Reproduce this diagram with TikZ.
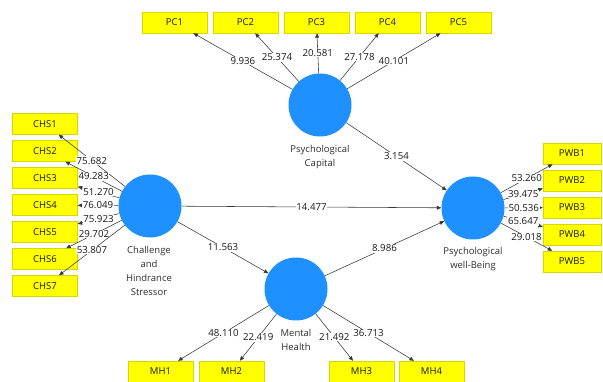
\documentclass[tikz,border=0pt]{standalone}
\usepackage{fontspec}
\setmainfont{Open Sans}
\usetikzlibrary{arrows.meta}
\definecolor{lvc}{RGB}{30,144,255}
\definecolor{indc}{RGB}{255,255,0}
\definecolor{indb}{RGB}{215,215,0}
\definecolor{lnc}{RGB}{55,55,55}
\definecolor{txc}{RGB}{25,25,25}
\definecolor{lbc}{RGB}{45,45,45}
\begin{document}
\begin{tikzpicture}[x=1pt,y=-1pt,
  lvnode/.style={circle,fill=lvc,minimum size=63pt,inner sep=0pt},
  indbox/.style={rectangle,fill=indc,draw=indb,line width=0.4pt,minimum width=65pt,minimum height=21pt,inner sep=0pt,font=\fontsize{9.5}{10}\selectfont,text=txc},
  lvlab/.style={font=\fontsize{9.5}{14}\selectfont,text=lbc,align=center},
  val/.style={fill=white,inner sep=0.6pt,font=\fontsize{9.7}{10}\selectfont,text=txc},
  conn/.style={draw=lnc,line width=0.55pt,-{Triangle[length=4.5pt,width=3.8pt]}}
]
\useasboundingbox (0,0) rectangle (603,382);

% latent variables
\node[lvnode] (pc) at (320,105) {};
\node[lvnode] (chs) at (150,206) {};
\node[lvnode] (pwb) at (473,208) {};
\node[lvnode] (mh) at (296,289) {};

\node[lvlab] (pcl) at (320,157) {Psychological\\Capital};
\node[lvlab] (chsl) at (149,271) {Challenge\\and\\Hindrance\\Stressor};
\node[lvlab] (pwbl) at (473,259) {Psychological\\well-Being};
\node[lvlab] (mhl) at (296,340) {Mental\\Health};

% indicators
\node[indbox] (pc1) at (174.5,22.5) {PC1};
\node[indbox] (pc2) at (245.5,22.5) {PC2};
\node[indbox] (pc3) at (316.5,22.5) {PC3};
\node[indbox] (pc4) at (387.5,22.5) {PC4};
\node[indbox] (pc5) at (458.5,22.5) {PC5};

\node[indbox] (chs1) at (45,124) {CHS1};
\node[indbox] (chs2) at (45,151) {CHS2};
\node[indbox] (chs3) at (45,178) {CHS3};
\node[indbox] (chs4) at (45,205) {CHS4};
\node[indbox] (chs5) at (45,232) {CHS5};
\node[indbox] (chs6) at (45,259) {CHS6};
\node[indbox] (chs7) at (45,286) {CHS7};

\node[indbox,minimum width=58pt] (pwb1) at (572,153.5) {PWB1};
\node[indbox,minimum width=58pt] (pwb2) at (572,180.5) {PWB2};
\node[indbox,minimum width=58pt] (pwb3) at (572,207.5) {PWB3};
\node[indbox,minimum width=58pt] (pwb4) at (572,234.5) {PWB4};
\node[indbox,minimum width=58pt] (pwb5) at (572,261.5) {PWB5};

\node[indbox] (mh1) at (160.5,371.5) {MH1};
\node[indbox] (mh2) at (231.5,371.5) {MH2};
\node[indbox] (mh3) at (361.5,371.5) {MH3};
\node[indbox] (mh4) at (431.5,371.5) {MH4};

% outer loadings
\draw[conn] (pc) -- (pc1) node[val,midway] {9.936};
\draw[conn] (pc) -- (pc2) node[val,midway] {25.374};
\draw[conn] (pc) -- (pc3) node[val,midway] {20.581};
\draw[conn] (pc) -- (pc4) node[val,midway] {27.178};
\draw[conn] (pc) -- (pc5) node[val,midway] {40.101};

\draw[conn] (chs) -- (chs1) node[val,midway] {75.682};
\draw[conn] (chs) -- (chs2) node[val,midway] {49.283};
\draw[conn] (chs) -- (chs3) node[val,midway] {51.270};
\draw[conn] (chs) -- (chs4) node[val,midway] {76.049};
\draw[conn] (chs) -- (chs5) node[val,midway] {75.923};
\draw[conn] (chs) -- (chs6) node[val,midway] {29.702};
\draw[conn] (chs) -- (chs7) node[val,midway] {53.807};

\draw[conn] (pwb) -- (pwb1) node[val,midway] {53.260};
\draw[conn] (pwb) -- (pwb2) node[val,midway] {39.475};
\draw[conn] (pwb) -- (pwb3) node[val,midway] {50.536};
\draw[conn] (pwb) -- (pwb4) node[val,midway] {65.647};
\draw[conn] (pwb) -- (pwb5) node[val,midway] {29.018};

\draw[conn] (mh) -- (mh1) node[val,midway] {48.110};
\draw[conn] (mh) -- (mh2) node[val,midway] {22.419};
\draw[conn] (mh) -- (mh3) node[val,midway] {21.492};
\draw[conn] (mh) -- (mh4) node[val,midway] {36.713};

% structural paths
\draw[conn] (pc) -- (pwb) node[val,midway] {3.154};
\draw[conn] (chs) -- (pwb) node[val,midway] {14.477};
\draw[conn] (chs) -- (mh) node[val,midway] {11.563};
\draw[conn] (mh) -- (pwb) node[val,midway] {8.986};
\end{tikzpicture}
\end{document}
